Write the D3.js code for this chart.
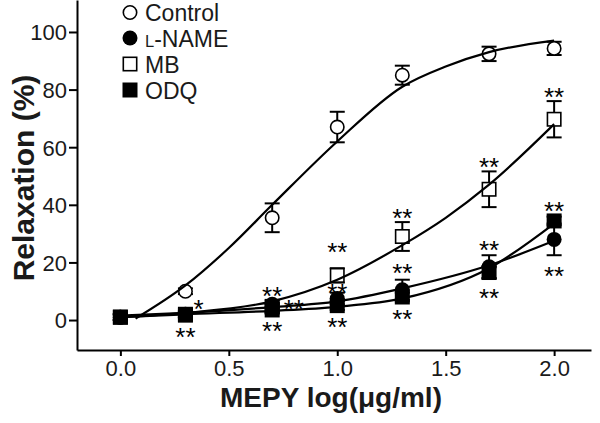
<!DOCTYPE html>
<html>
<head>
<meta charset="utf-8">
<script src="https://cdn.jsdelivr.net/npm/d3@7"></script>
<style>
  html, body { margin: 0; padding: 0; background: #fff; }
  svg { display: block; font-family: "Liberation Sans", Arial, Helvetica, sans-serif; }
</style>
</head>
<body>
<svg id="chart" width="600" height="423"></svg>
<script>
// ---------------- data ----------------
const doseLog = [0, 0.3, 0.7, 1.0, 1.3, 1.7, 2.0];

const controlMean = [1, 10, 35.5, 67, 85, 92.4, 94.3];
const controlErr  = [1, 1, 5, 5.3, 3.3, 2.5, 2.3];
const lnameMean   = [1, 2, 5.5, 7.5, 10.5, 18.5, 28];
const lnameErr    = [1, 1, 1.5, 2, 3.5, 4, 5.5];
const mbMean      = [1, 2, 4.5, 15.5, 29, 45.4, 69.7];
const mbErr       = [1, 1, 1.5, 2.5, 5, 6.2, 6.3];
const odqMean     = [1, 1.7, 3.5, 5, 8, 16.5, 34.4];
const odqErr      = [1, 1, 1, 1.5, 1.5, 2, 1.5];

// fitted curves
const controlCurveX = [0.07, 0.3, 0.5, 0.7, 1.0, 1.3, 1.5, 1.7, 2.0];
const controlCurveY = [0.5, 12, 25, 40, 62, 81, 88, 93, 97];
const mbCurveX      = [0, 0.3, 0.7, 1.0, 1.3, 1.5, 1.7, 2.0];
const mbCurveY      = [1, 2.5, 6.5, 14, 26, 35.5, 47, 68];
const lnameCurveX   = [0, 0.3, 0.7, 1.0, 1.3, 1.7, 2.0];
const lnameCurveY   = [1.5, 2.5, 4.5, 6.5, 11, 19, 27.5];
const odqCurveX     = [0, 0.3, 0.7, 1.0, 1.3, 1.7, 2.0];
const odqCurveY     = [1, 2, 3.2, 4.6, 7.5, 18, 33.5];

// significance marks
const sigX    = [0.36, 0.3, 0.7, 0.8, 0.7, 1.0, 1.0, 1.0, 1.3, 1.3, 1.3, 1.7, 1.7, 1.7, 2.0, 2.0, 2.0];
const sigY    = [5.8, -4, 10.4, 5.8, -1.7, 25.7, 11.5, -0.5, 37.6, 18.5, 2.5, 55, 26.4, 9.5, 79.5, 40, 17.4];
const sigText = ["*", "**", "**", "**", "**", "**", "**", "**", "**", "**", "**", "**", "**", "**", "**", "**", "**"];

const xTicks = [0, 0.5, 1.0, 1.5, 2.0];
const yTicks = [0, 20, 40, 60, 80, 100];

const legendNames = ["Control", "L-NAME", "MB", "ODQ"];

// ---------------- layout ----------------
const svg = d3.select("#chart");
const x = d3.scaleLinear().domain([-0.2, 2.17]).range([77, 591]);
const y = d3.scaleLinear().domain([-10.4, 111.1]).range([350, 0]);

// axes
const xAxis = d3.axisBottom(x).tickValues(xTicks).tickFormat(d3.format(".1f")).tickSize(6).tickSizeOuter(0);
const yAxis = d3.axisLeft(y).tickValues(yTicks).tickFormat(d3.format("d")).tickSize(8).tickSizeOuter(0);

const gx = svg.append("g").attr("transform", "translate(0,350)").call(xAxis);
const gy = svg.append("g").attr("transform", "translate(77,0)").call(yAxis);
[gx, gy].forEach(g => {
  g.select(".domain").attr("stroke", "#000").attr("stroke-width", 2);
  g.selectAll(".tick line").attr("stroke", "#000").attr("stroke-width", 2);
  g.selectAll(".tick text").attr("fill", "#1a1a1a").style("font-size", "22px")
    .style("font-family", '"Liberation Sans", Arial, sans-serif');
});
gx.selectAll(".tick text").attr("dy", null).attr("y", 26);
gy.selectAll(".tick text").attr("x", -10).attr("dy", "0.36em");

// axis titles
svg.append("text").attr("x", 331).attr("y", 407).attr("text-anchor", "middle")
  .style("font-size", "28px").style("font-weight", "bold").attr("fill", "#1a1a1a")
  .text("MEPY log(μg/ml)");
svg.append("text").attr("transform", "translate(34,178) rotate(-90)").attr("text-anchor", "middle")
  .style("font-size", "30px").style("font-weight", "bold").attr("fill", "#1a1a1a")
  .text("Relaxation (%)");

// ---------------- marks ----------------
const plot = svg.append("g");
const R = 7.5;

function drawSeries(mean, err, shape, filled) {
  const pts = doseLog.map((d, i) => ({ x: d, m: mean[i], e: err[i] }));
  const g = plot.append("g");
  g.selectAll("line.eb").data(pts).enter().append("line")
    .attr("x1", d => x(d.x)).attr("x2", d => x(d.x))
    .attr("y1", d => y(d.m - d.e)).attr("y2", d => y(d.m + d.e))
    .attr("stroke", "#000").attr("stroke-width", 2);
  [-1, 1].forEach(s => {
    g.selectAll("line.cap" + (s < 0 ? "a" : "b")).data(pts).enter().append("line")
      .attr("x1", d => x(d.x) - R).attr("x2", d => x(d.x) + R)
      .attr("y1", d => y(d.m + s * d.e))
      .attr("y2", d => y(d.m + s * d.e))
      .attr("stroke", "#000").attr("stroke-width", 2);
  });
  if (shape === "circle") {
    g.selectAll("circle").data(pts).enter().append("circle")
      .attr("cx", d => x(d.x)).attr("cy", d => y(d.m)).attr("r", filled ? R : R - 0.8)
      .attr("fill", filled ? "#000" : "#fff").attr("stroke", "#000").attr("stroke-width", filled ? 0 : 1.6);
  } else {
    g.selectAll("rect").data(pts).enter().append("rect")
      .attr("x", d => x(d.x) - R + (filled ? 0 : 0.8)).attr("y", d => y(d.m) - R + (filled ? 0 : 0.8))
      .attr("width", filled ? 2 * R : 2 * R - 1.6).attr("height", filled ? 2 * R : 2 * R - 1.6)
      .attr("fill", filled ? "#000" : "#fff").attr("stroke", "#000").attr("stroke-width", filled ? 0 : 1.6);
  }
}

drawSeries(controlMean, controlErr, "circle", false);
drawSeries(mbMean, mbErr, "square", false);
drawSeries(lnameMean, lnameErr, "circle", true);
drawSeries(odqMean, odqErr, "square", true);

// curves
const line = d3.line().x(d => x(d[0])).y(d => y(d[1])).curve(d3.curveMonotoneX);
[[controlCurveX, controlCurveY], [mbCurveX, mbCurveY], [lnameCurveX, lnameCurveY], [odqCurveX, odqCurveY]]
  .forEach(([cx, cy]) => {
    plot.append("path").datum(cx.map((v, i) => [v, cy[i]])).attr("d", line)
      .attr("fill", "none").attr("stroke", "#000").attr("stroke-width", 2.2);
  });

// significance asterisks
const fs = 26;
plot.selectAll("text.sig").data(sigX.map((v, i) => ({ x: v, y: sigY[i], t: sigText[i] })))
  .enter().append("text")
  .attr("x", d => x(d.x)).attr("y", d => y(d.y) + fs * 0.57)
  .attr("text-anchor", "middle").style("font-size", fs + "px").attr("fill", "#000")
  .text(d => d.t);

// ---------------- legend ----------------
const lg = svg.append("g");
const legY = [12.5, 38, 64, 90];
const legShape = ["circle", "circle", "square", "square"];
const legFill = [false, true, false, true];
legendNames.forEach((name, i) => {
  const cy = legY[i], cx = 130;
  if (legShape[i] === "circle") {
    lg.append("circle").attr("cx", cx).attr("cy", cy).attr("r", legFill[i] ? R : R - 0.8)
      .attr("fill", legFill[i] ? "#000" : "#fff").attr("stroke", "#000").attr("stroke-width", legFill[i] ? 0 : 1.6);
  } else {
    lg.append("rect").attr("x", cx - R + (legFill[i] ? 0 : 0.8)).attr("y", cy - R + (legFill[i] ? 0 : 0.8))
      .attr("width", legFill[i] ? 2 * R : 2 * R - 1.6).attr("height", legFill[i] ? 2 * R : 2 * R - 1.6)
      .attr("fill", legFill[i] ? "#000" : "#fff").attr("stroke", "#000").attr("stroke-width", legFill[i] ? 0 : 1.6);
  }
  const t = lg.append("text").attr("x", 145).attr("y", cy + 8.5).style("font-size", "23px").attr("fill", "#1a1a1a");
  if (name === "L-NAME") {
    t.append("tspan").style("font-size", "16.5px").text("L");
    t.append("tspan").text("-NAME");
  } else {
    t.text(name);
  }
});
</script>
</body>
</html>
